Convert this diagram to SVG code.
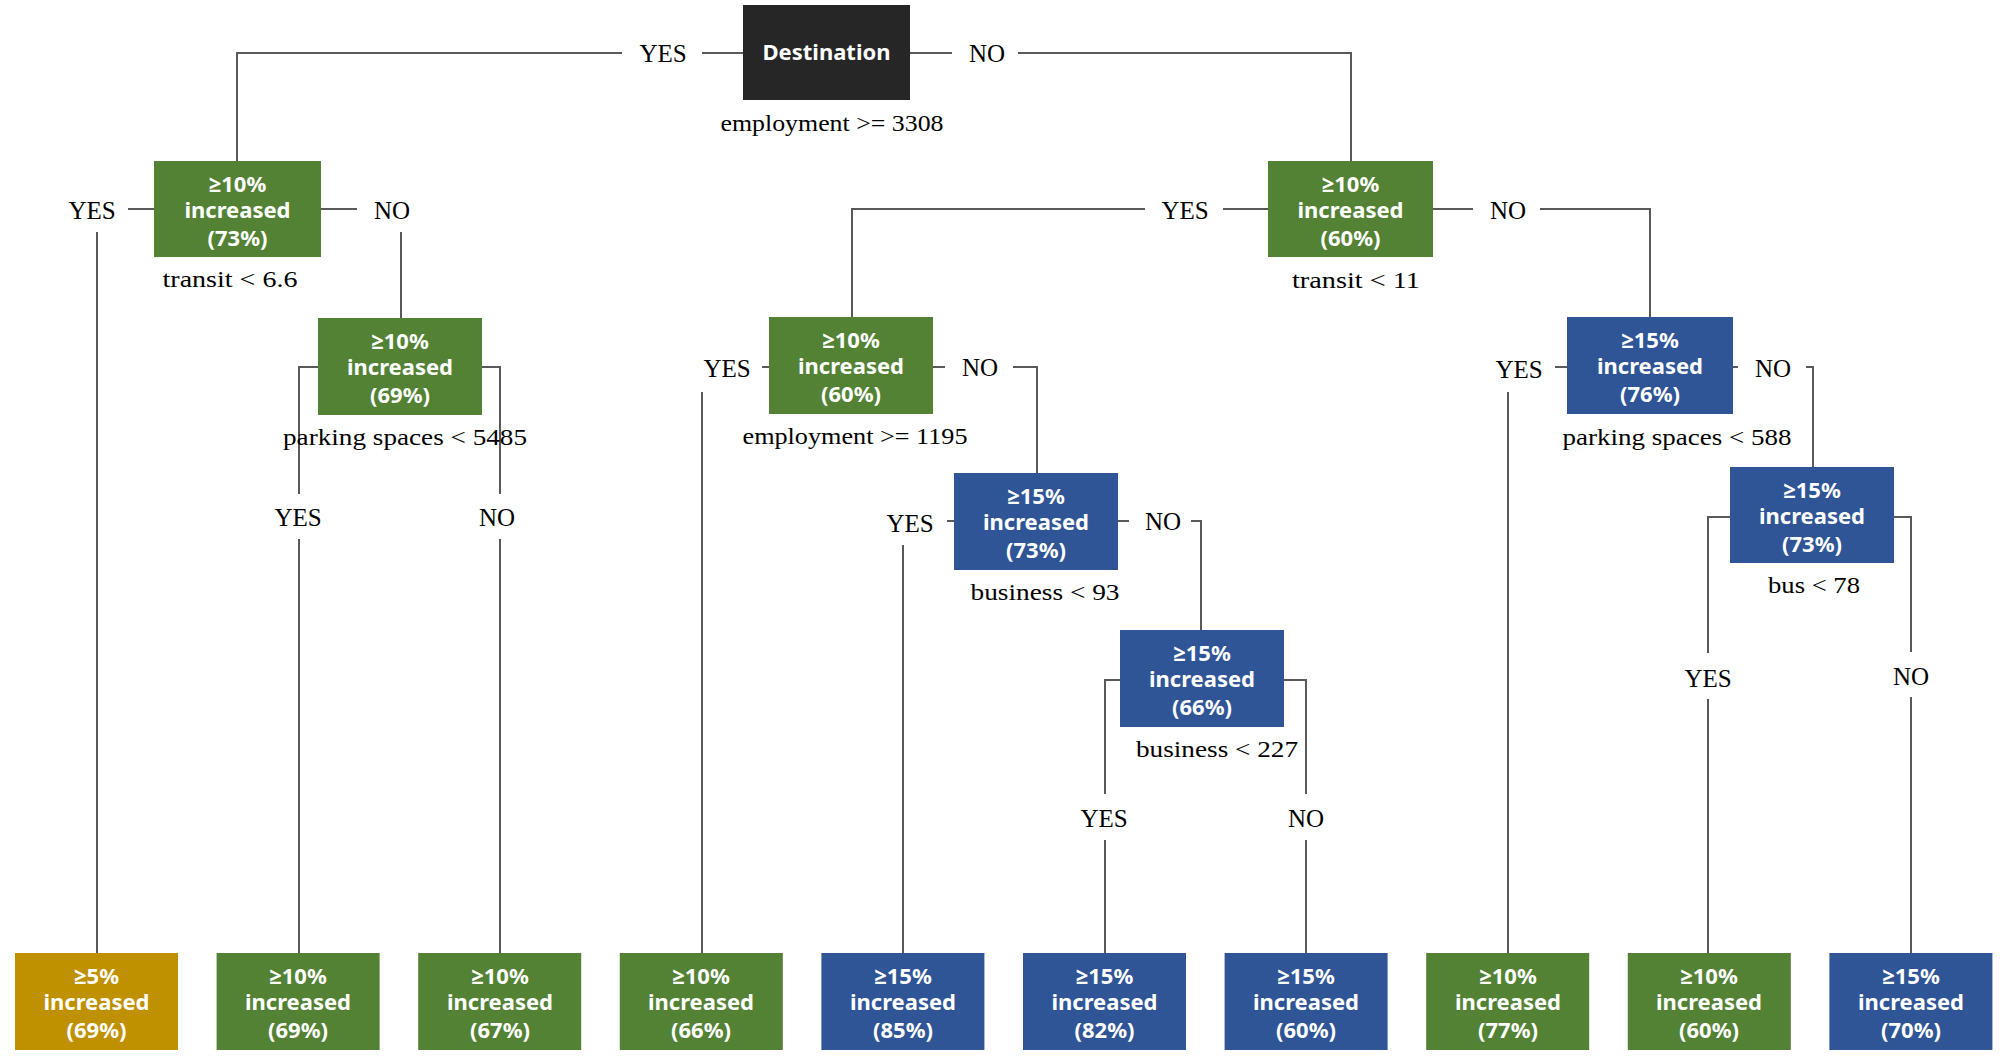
<svg xmlns="http://www.w3.org/2000/svg" width="2008" height="1056" viewBox="0 0 2008 1056">
<style>
.g{fill:#548235}.b{fill:#2F5597}.y{fill:#BF9000}.k{fill:#262626}
.nt{font-family:"Noto Sans","Open Sans",sans-serif;font-weight:bold;font-size:22px;fill:#fff;text-anchor:middle}
.lb{font-family:"Liberation Serif","DejaVu Serif",serif;font-size:25px;fill:#000;text-anchor:middle}
.cd{font-family:"Liberation Serif","DejaVu Serif",serif;font-size:23px;fill:#000;text-anchor:middle}
.c{fill:none;stroke:#595959;stroke-width:2}
</style>
<rect width="2008" height="1056" fill="#fff"/>
<g id="connectors">
<path class="c" d="M702 53H743M622 53H237V161M910 53H952M1018 53H1351V161"/>
<path class="c" d="M128 209H154M97 232V953M321 209H357M401 232V318"/>
<path class="c" d="M318 367H299V494M299 539V953M482 367H500V494M500 539V953"/>
<path class="c" d="M1268 209H1223M1145 209H852V317M1433 209H1473M1540 209H1650V318"/>
<path class="c" d="M769 367H762M702 392V953M933 367H945M1013 367H1037V473"/>
<path class="c" d="M954 521H947M903 545V953M1118 521H1129M1191 521H1201V630"/>
<path class="c" d="M1120 680H1105V794M1105 840V953M1284 680H1306V794M1306 840V953"/>
<path class="c" d="M1567 367H1555M1508 392V953M1733 367H1738M1806 367H1813V467"/>
<path class="c" d="M1730 517H1708V653M1708 699V953M1894 517H1911V652M1911 697V953"/>
</g>
<g id="edge-labels">
<text class="lb" x="663" y="62">YES</text>
<text class="lb" x="987" y="62">NO</text>
<text class="lb" x="92" y="219">YES</text>
<text class="lb" x="392" y="219">NO</text>
<text class="lb" x="298" y="526">YES</text>
<text class="lb" x="497" y="526">NO</text>
<text class="lb" x="1185" y="219">YES</text>
<text class="lb" x="1508" y="219">NO</text>
<text class="lb" x="727" y="377">YES</text>
<text class="lb" x="980" y="376">NO</text>
<text class="lb" x="910" y="532">YES</text>
<text class="lb" x="1163" y="530">NO</text>
<text class="lb" x="1104" y="827">YES</text>
<text class="lb" x="1306" y="827">NO</text>
<text class="lb" x="1519" y="378">YES</text>
<text class="lb" x="1773" y="377">NO</text>
<text class="lb" x="1708" y="687">YES</text>
<text class="lb" x="1911" y="685">NO</text>
</g>
<g id="n-root"><rect class="k" x="743" y="5" width="167" height="95"/><text class="nt" x="826.5" y="60">Destination</text><text class="cd" x="832" y="131" textLength="223" lengthAdjust="spacingAndGlyphs">employment &gt;= 3308</text></g>
<g id="n-l1"><rect class="g" x="154" y="161" width="167" height="96"/><text class="nt" x="237.5" y="192">≥10%</text><text class="nt" x="237.5" y="218">increased</text><text class="nt" x="237.5" y="246">(73%)</text><text class="cd" x="230" y="287" textLength="135" lengthAdjust="spacingAndGlyphs">transit &lt; 6.6</text></g>
<g id="n-l2"><rect class="g" x="318" y="318" width="164" height="97"/><text class="nt" x="400" y="349">≥10%</text><text class="nt" x="400" y="375">increased</text><text class="nt" x="400" y="403">(69%)</text><text class="cd" x="405" y="445" textLength="244" lengthAdjust="spacingAndGlyphs">parking spaces &lt; 5485</text></g>
<g id="n-r1"><rect class="g" x="1268" y="161" width="165" height="96"/><text class="nt" x="1350.5" y="192">≥10%</text><text class="nt" x="1350.5" y="218">increased</text><text class="nt" x="1350.5" y="246">(60%)</text><text class="cd" x="1356" y="288" textLength="128" lengthAdjust="spacingAndGlyphs">transit &lt; 11</text></g>
<g id="n-r2"><rect class="g" x="769" y="317" width="164" height="97"/><text class="nt" x="851" y="348">≥10%</text><text class="nt" x="851" y="374">increased</text><text class="nt" x="851" y="402">(60%)</text><text class="cd" x="855" y="444" textLength="225" lengthAdjust="spacingAndGlyphs">employment &gt;= 1195</text></g>
<g id="n-r3"><rect class="b" x="954" y="473" width="164" height="97"/><text class="nt" x="1036" y="504">≥15%</text><text class="nt" x="1036" y="530">increased</text><text class="nt" x="1036" y="558">(73%)</text><text class="cd" x="1045" y="600" textLength="149" lengthAdjust="spacingAndGlyphs">business &lt; 93</text></g>
<g id="n-r4"><rect class="b" x="1120" y="630" width="164" height="97"/><text class="nt" x="1202" y="661">≥15%</text><text class="nt" x="1202" y="687">increased</text><text class="nt" x="1202" y="715">(66%)</text><text class="cd" x="1217" y="757" textLength="162" lengthAdjust="spacingAndGlyphs">business &lt; 227</text></g>
<g id="n-r5"><rect class="b" x="1567" y="317" width="166" height="97"/><text class="nt" x="1650" y="348">≥15%</text><text class="nt" x="1650" y="374">increased</text><text class="nt" x="1650" y="402">(76%)</text><text class="cd" x="1677" y="445" textLength="229" lengthAdjust="spacingAndGlyphs">parking spaces &lt; 588</text></g>
<g id="n-r6"><rect class="b" x="1730" y="467" width="164" height="96"/><text class="nt" x="1812" y="498">≥15%</text><text class="nt" x="1812" y="524">increased</text><text class="nt" x="1812" y="552">(73%)</text><text class="cd" x="1814" y="593" textLength="92" lengthAdjust="spacingAndGlyphs">bus &lt; 78</text></g>
<g id="leaf1"><rect class="y" x="15" y="953" width="163" height="97"/><text class="nt" x="96.5" y="984">≥5%</text><text class="nt" x="96.5" y="1010">increased</text><text class="nt" x="96.5" y="1038">(69%)</text></g>
<g id="leaf2"><rect class="g" x="216.6" y="953" width="163" height="97"/><text class="nt" x="298" y="984">≥10%</text><text class="nt" x="298" y="1010">increased</text><text class="nt" x="298" y="1038">(69%)</text></g>
<g id="leaf3"><rect class="g" x="418.2" y="953" width="163" height="97"/><text class="nt" x="500" y="984">≥10%</text><text class="nt" x="500" y="1010">increased</text><text class="nt" x="500" y="1038">(67%)</text></g>
<g id="leaf4"><rect class="g" x="619.8" y="953" width="163" height="97"/><text class="nt" x="701" y="984">≥10%</text><text class="nt" x="701" y="1010">increased</text><text class="nt" x="701" y="1038">(66%)</text></g>
<g id="leaf5"><rect class="b" x="821.4" y="953" width="163" height="97"/><text class="nt" x="903" y="984">≥15%</text><text class="nt" x="903" y="1010">increased</text><text class="nt" x="903" y="1038">(85%)</text></g>
<g id="leaf6"><rect class="b" x="1023" y="953" width="163" height="97"/><text class="nt" x="1104.5" y="984">≥15%</text><text class="nt" x="1104.5" y="1010">increased</text><text class="nt" x="1104.5" y="1038">(82%)</text></g>
<g id="leaf7"><rect class="b" x="1224.6" y="953" width="163" height="97"/><text class="nt" x="1306" y="984">≥15%</text><text class="nt" x="1306" y="1010">increased</text><text class="nt" x="1306" y="1038">(60%)</text></g>
<g id="leaf8"><rect class="g" x="1426.2" y="953" width="163" height="97"/><text class="nt" x="1508" y="984">≥10%</text><text class="nt" x="1508" y="1010">increased</text><text class="nt" x="1508" y="1038">(77%)</text></g>
<g id="leaf9"><rect class="g" x="1627.8" y="953" width="163" height="97"/><text class="nt" x="1709" y="984">≥10%</text><text class="nt" x="1709" y="1010">increased</text><text class="nt" x="1709" y="1038">(60%)</text></g>
<g id="leaf10"><rect class="b" x="1829.4" y="953" width="163" height="97"/><text class="nt" x="1911" y="984">≥15%</text><text class="nt" x="1911" y="1010">increased</text><text class="nt" x="1911" y="1038">(70%)</text></g>
</svg>
